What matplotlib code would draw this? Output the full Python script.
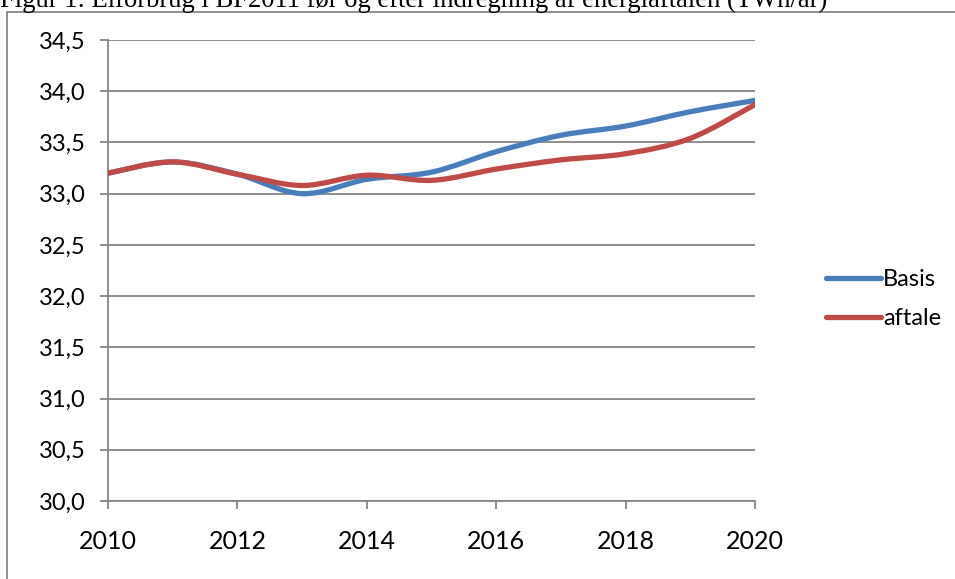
import matplotlib.pyplot as plt
from matplotlib.path import Path
from matplotlib.patches import PathPatch, Rectangle
from matplotlib.lines import Line2D

years = [2010, 2011, 2012, 2013, 2014, 2015, 2016, 2017, 2018, 2019, 2020]
basis = [33.20, 33.31, 33.19, 33.00, 33.14, 33.21, 33.41, 33.57, 33.66, 33.80, 33.91]
aftale = [33.20, 33.31, 33.19, 33.08, 33.18, 33.13, 33.24, 33.33, 33.39, 33.54, 33.87]

yticks = [30.0, 30.5, 31.0, 31.5, 32.0, 32.5, 33.0, 33.5, 34.0, 34.5]
xticks = [2010, 2012, 2014, 2016, 2018, 2020]

title = "Figur 1: Elforbrug i BF2011 før og efter indregning af energiaftalen (TWh/år)"

blue = '#4a7ebb'
red = '#be4b48'
grey = '#868686'


def smooth_path(xs, ys):
    # excel style smoothed line: catmull-rom turned into bezier segments
    pts = list(zip(xs, ys))
    verts = [pts[0]]
    codes = [Path.MOVETO]
    n = len(pts)
    for i in range(n - 1):
        p0 = pts[max(i - 1, 0)]
        p1 = pts[i]
        p2 = pts[i + 1]
        p3 = pts[min(i + 2, n - 1)]
        c1 = (p1[0] + (p2[0] - p0[0]) / 6, p1[1] + (p2[1] - p0[1]) / 6)
        c2 = (p2[0] - (p3[0] - p1[0]) / 6, p2[1] - (p3[1] - p1[1]) / 6)
        verts += [c1, c2, p2]
        codes += [Path.CURVE4] * 3
    return Path(verts, codes)


fig = plt.figure(figsize=(9.55, 5.79), dpi=100)
ax = fig.add_axes([108 / 955, 1 - 501 / 579, (755 - 108) / 955, (501 - 40) / 579])

for vals, col in [(basis, blue), (aftale, red)]:
    patch = PathPatch(smooth_path(years, vals), facecolor='none', edgecolor=col,
                      lw=3.8, capstyle='round', joinstyle='round', zorder=3)
    ax.add_patch(patch)

ax.set_xlim(2010, 2020)
ax.set_ylim(30, 34.5)
ax.set_xticks(xticks)
ax.set_yticks(yticks)
ax.set_yticklabels([f"{v:.1f}".replace('.', ',') for v in yticks])
ax.set_xticklabels([str(x) for x in xticks])
ax.grid(axis='y', color=grey, lw=1.3)
ax.set_axisbelow(True)
for s in ['top', 'right']:
    ax.spines[s].set_visible(False)
for s in ['left', 'bottom']:
    ax.spines[s].set_color(grey)
    ax.spines[s].set_linewidth(1.3)
ax.tick_params(axis='both', color=grey, length=6, width=1.3, direction='out')
ax.tick_params(axis='y', labelsize=17, pad=10)
ax.tick_params(axis='x', labelsize=18, pad=15)
for lab in ax.get_xticklabels() + ax.get_yticklabels():
    lab.set_family('Lato')

handles = [Line2D([], [], color=blue, lw=3.8, solid_capstyle='round'),
           Line2D([], [], color=red, lw=3.8, solid_capstyle='round')]
fig.legend(handles, ['Basis', 'aftale'], loc='center left',
           bbox_to_anchor=(817 / 955, 1 - 299 / 579), frameon=False,
           prop={'family': 'Lato', 'size': 17}, handlelength=2.3,
           handletextpad=0.1, labelspacing=0.75, borderaxespad=0)

fig.add_artist(Rectangle((7 / 955, -0.1), 1.2, 1.1 - 12 / 579, transform=fig.transFigure,
                         fill=False, edgecolor=grey, lw=1.3))
fig.text(0, 1 - 7 / 579, title, family='Liberation Serif', size=19.2, va='baseline', ha='left')

fig.savefig('out.png', dpi=100)
